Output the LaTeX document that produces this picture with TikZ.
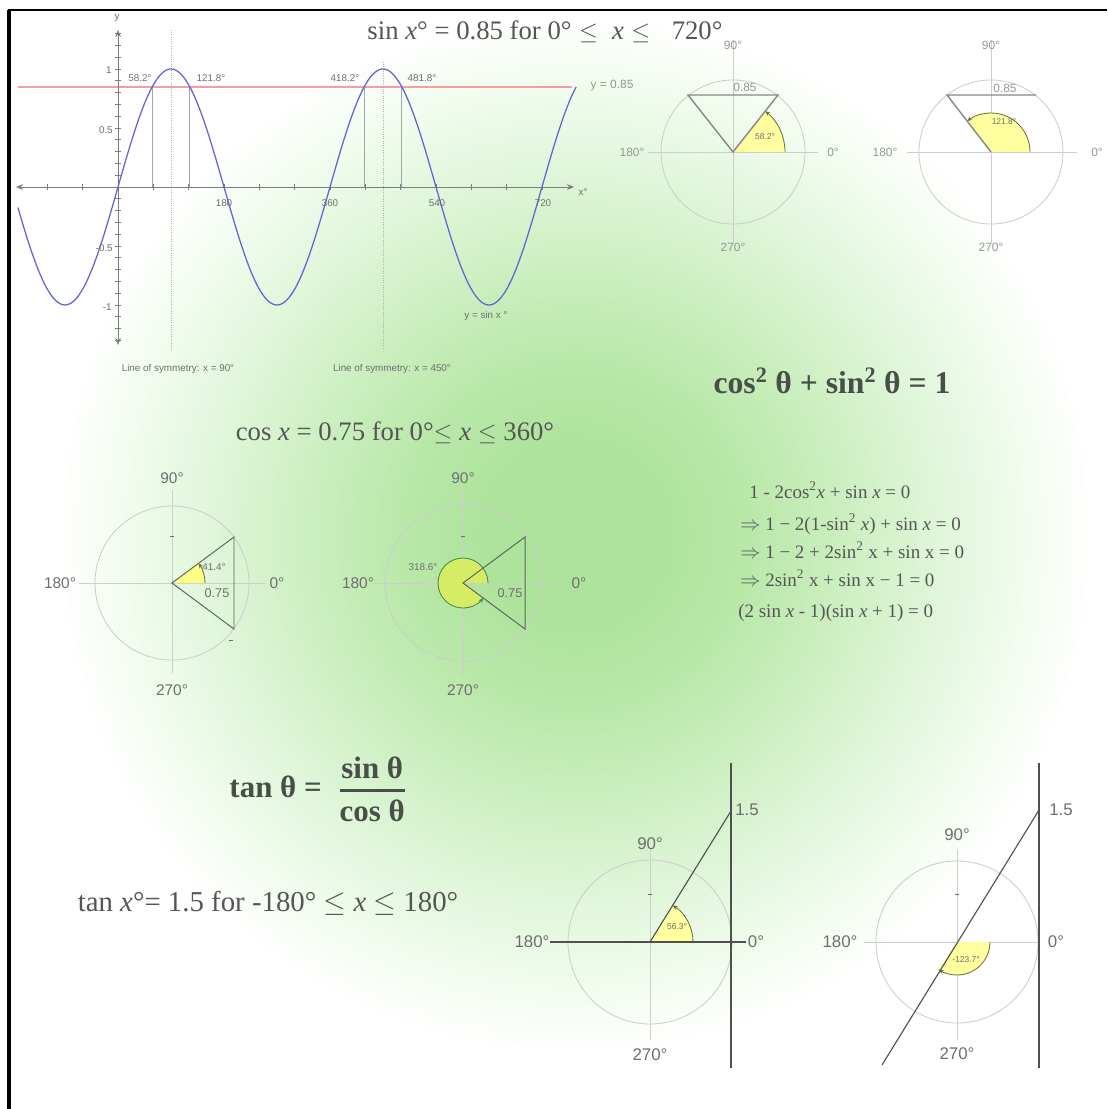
\documentclass[tikz,border=0pt]{standalone}
\usepackage{fontspec}
\setmainfont{Liberation Serif}
\setsansfont{Liberation Sans}
\usetikzlibrary{arrows.meta}

\definecolor{ink}{RGB}{85,85,85}
\definecolor{inkdark}{RGB}{72,78,72}
\definecolor{lblgray}{RGB}{110,110,110}
\definecolor{lblpale}{RGB}{150,150,150}
\definecolor{axispale}{RGB}{205,205,205}
\definecolor{axisdark}{RGB}{125,125,125}
\definecolor{sinblue}{RGB}{100,100,215}
\definecolor{linered}{RGB}{240,160,160}
\definecolor{symgreen}{RGB}{165,185,165}
\definecolor{triline}{RGB}{135,135,135}
\definecolor{cosline}{RGB}{90,105,90}
\definecolor{tanline}{RGB}{80,80,80}
\definecolor{sectpale}{RGB}{255,255,160}
\definecolor{sectlime}{RGB}{214,236,100}
\definecolor{sectedge}{RGB}{105,115,55}
\definecolor{glowcore}{RGB}{174,227,155}
\definecolor{glowa}{RGB}{184,231,167}
\definecolor{glowb}{RGB}{204,239,193}
\definecolor{glowc}{RGB}{226,247,220}
\definecolor{glowd}{RGB}{243,252,240}

\pgfdeclareradialshading{glow}{\pgfpoint{0bp}{0bp}}{%
  color(0bp)=(glowcore); color(4bp)=(glowcore); color(8bp)=(glowa);
  color(13bp)=(glowb); color(18bp)=(glowc); color(22bp)=(glowd);
  color(25bp)=(white); color(50bp)=(white)}

\begin{document}
\begin{tikzpicture}[
    x=0.025cm, y=-0.025cm,
    title/.style={text=ink, inner sep=0pt, anchor=base, font=\fontsize{18.5}{21}\selectfont},
    bigeq/.style={text=inkdark, inner sep=0pt, font=\bfseries\fontsize{22.5}{26}\selectfont},
    stepline/.style={text=ink, inner sep=0pt, anchor=base west, font=\fontsize{13.5}{16}\selectfont},
    tiny/.style={text=lblgray, inner sep=0pt, font=\sffamily\fontsize{7}{8}\selectfont},
    degsmall/.style={text=lblpale, inner sep=0pt, font=\sffamily\fontsize{8.5}{9}\selectfont},
    deg/.style={text=lblgray, inner sep=0pt, font=\sffamily\fontsize{11}{12}\selectfont},
    degbig/.style={text=lblgray, inner sep=0pt, font=\sffamily\fontsize{12}{13}\selectfont},
    anglbl/.style={text=lblgray, inner sep=0pt, font=\sffamily\fontsize{6}{7}\selectfont},
    axisln/.style={draw=axispale, line width=0.5pt},
    circln/.style={draw=axispale, line width=0.6pt},
    sinaxis/.style={draw=axisdark, line width=0.5pt},
    symline/.style={draw=symgreen, line width=0.6pt, densely dotted},
    footline/.style={draw=axispale!80!black, line width=0.4pt},
    sector/.style={fill=sectpale},
    sectarc/.style={draw=sectedge, line width=0.6pt, -{Stealth[length=3.5pt, width=3pt]}},
    tri/.style={draw=triline, line width=1pt},
    cosedge/.style={draw=cosline, line width=0.7pt},
    tanedge/.style={draw=tanline, line width=0.8pt},
    tickmark/.style={draw=lblgray, line width=0.5pt},
    axisarrows/.style={{Stealth[length=5pt, width=4pt]}-{Stealth[length=5pt, width=4pt]}}
]
\useasboundingbox (0,0) rectangle (1107,1109);
\begin{scope}
    \clip (9,10) rectangle (1107,1109);
    \shade[shading=glow] (575,535) circle[radius=13cm];
\end{scope}
\draw[line width=2.6pt] (9,1109) -- (9,10);
\draw[line width=2.1pt] (8,10) -- (1107,10);

% sine graph
\draw[linered, line width=0.8pt] (18,87) -- (572,87);
\foreach \a in {58.2,121.8,418.2,481.8}
    \draw[footline] ({118+\a/180*106},187) -- ({118+\a/180*106},87);
\draw[symline] (171,30) -- (171,350);
\draw[symline] (383,62) -- (383,350);
\draw[sinaxis, axisarrows] (16,187) -- (574,187);
\draw[sinaxis, axisarrows] (118,345) -- (118,30);
\foreach \a in {-120,-60,60,120,...,720}
    \draw[sinaxis] ({118+\a/180*106},184) -- ++(0,6);
\foreach \v in {-13,...,13}
    \draw[sinaxis] (115,{187-\v*11.8}) -- ++(6,0);
\draw[sinblue, line width=0.9pt] plot[domain=-170:778, samples=240, smooth] ({118+\x/180*106}, {187-118*sin(\x)});

\node[title, font=\fontsize{19}{21}\selectfont] (sintitle) at (545,40) {sin \textit{x}° = 0.85 for 0°\;$\le$\; \textit{x}\;$\le$\;\; 720°};
\node[tiny] (yname) at (117,18) {y};
\node[tiny, anchor=east] (ytop) at (112,70) {1};
\node[tiny, anchor=east] (yhalf) at (113,130) {0.5};
\node[tiny, anchor=east] (ymhalf) at (113,248) {-0.5};
\node[tiny, anchor=east] (ybot) at (112,307) {-1};
\node[tiny] (x180) at (224,203) {180};
\node[tiny] (x360) at (330,203) {360};
\node[tiny] (x540) at (437,203) {540};
\node[tiny] (x720) at (543,203) {720};
\node[tiny] (xname) at (583,192) {x°};
\node[tiny] (sol1) at (140,78) {58.2°};
\node[tiny] (sol2) at (211,78) {121.8°};
\node[tiny] (sol3) at (345,78) {418.2°};
\node[tiny] (sol4) at (422,78) {481.8°};
\node[degsmall] (redname) at (612,86) {y = 0.85};
\node[tiny] (curvename) at (486,316) {y = sin x °};
\node[tiny] (sym1) at (178,369) {Line of symmetry: x = 90°};
\node[tiny] (sym2) at (392,369) {Line of symmetry: x = 450°};

% sin x = 0.85, first solution
\begin{scope}[shift={(733,152)}, y=0.025cm]
    \draw[axisln] (-85,0) -- (85,0);
    \draw[axisln] (0,-91) -- (0,112);
    \draw[circln] (0,0) circle[radius=72];
    \fill[sector] (0,0) -- (52,0) arc[start angle=0, end angle=51.7, radius=52] -- cycle;
    \draw[sectarc] (52,0) arc[start angle=0, end angle=51.7, radius=52];
    \draw[tri] (0,0) -- (45,57) -- (-45,57) -- cycle;
    \node[anglbl] (sa-ang) at (32,15) {58.2°};
    \node[degsmall] (sa-val) at (12,65) {0.85};
    \node[degsmall] (sa-90) at (0,107) {90°};
    \node[degsmall] (sa-180) at (-101,0) {180°};
    \node[degsmall] (sa-0) at (100,0) {0°};
    \node[degsmall] (sa-270) at (0,-95) {270°};
\end{scope}

% sin x = 0.85, second solution
\begin{scope}[shift={(991,152)}, y=0.025cm]
    \draw[axisln] (-84,0) -- (86,0);
    \draw[axisln] (0,-91) -- (0,112);
    \draw[circln] (0,0) circle[radius=72];
    \fill[sector] (0,0) -- (39,0) arc[start angle=0, end angle=127.7, radius=39] -- cycle;
    \draw[sectarc] (39,0) arc[start angle=0, end angle=127.7, radius=39];
    \draw[tri] (0,0) -- (-44,57) -- (45,57);
    \node[anglbl] (sb-ang) at (13,30) {121.8°};
    \node[degsmall] (sb-val) at (14,64) {0.85};
    \node[degsmall] (sb-90) at (0,107) {90°};
    \node[degsmall] (sb-180) at (-106,0) {180°};
    \node[degsmall] (sb-0) at (106,0) {0°};
    \node[degsmall] (sb-270) at (0,-95) {270°};
\end{scope}

\node[bigeq] (pyth) at (832,393) [anchor=base] {cos\textsuperscript{2} θ + sin\textsuperscript{2} θ = 1};
\node[title, font=\fontsize{19}{22}\selectfont] (costitle) at (395,440) {cos \textit{x} = 0.75 for 0°$\le$ \textit{x} $\le$ 360°};

% cos x = 0.75, first solution
\begin{scope}[shift={(172,583)}, y=0.025cm]
    \draw[axisln] (-93,0) -- (93,0);
    \draw[axisln] (0,-90) -- (0,93);
    \draw[circln] (0,0) circle[radius=77];
    \fill[sector, fill=sectpale!85!yellow] (0,0) -- (33,0) arc[start angle=0, end angle=36.6, radius=33] -- cycle;
    \draw[sectarc] (33,0) arc[start angle=0, end angle=36.6, radius=33];
    \draw[cosedge] (0,0) -- (62,46) -- (62,-46) -- cycle;
    \draw[tickmark] (-2,47) -- (2,47);
    \draw[tickmark] (57,-57) -- (61,-57);
    \node[anglbl, font=\sffamily\fontsize{7}{8}\selectfont] (sc-ang) at (42,16) {41.4°};
    \node[deg, font=\sffamily\fontsize{9}{10}\selectfont] (sc-val) at (45,-10) {0.75};
    \node[deg] (sc-90) at (0,105) {90°};
    \node[deg] (sc-180) at (-112,0) {180°};
    \node[deg] (sc-0) at (105,0) {0°};
    \node[deg] (sc-270) at (0,-107) {270°};
\end{scope}

% cos x = 0.75, second solution
\begin{scope}[shift={(463,583)}, y=0.025cm]
    \draw[axisln] (-90,0) -- (100,0);
    \draw[axisln] (0,-92) -- (0,95);
    \draw[circln] (0,0) circle[radius=78];
    \fill[fill=sectlime] (0,0) -- (25,0) arc[start angle=0, end angle=323.4, radius=25] -- cycle;
    \draw[sectarc, draw=cosline!80!green] (25,0) arc[start angle=0, end angle=323.4, radius=25];
    \draw[cosedge] (0,0) -- (62,46) -- (62,-46) -- cycle;
    \draw[tickmark] (-2,47) -- (2,47);
    \node[anglbl, font=\sffamily\fontsize{7}{8}\selectfont] (sd-ang) at (-40,16) {318.6°};
    \node[deg, font=\sffamily\fontsize{9}{10}\selectfont] (sd-val) at (47,-10) {0.75};
    \node[deg] (sd-90) at (0,105) {90°};
    \node[deg] (sd-180) at (-105,0) {180°};
    \node[deg] (sd-0) at (116,0) {0°};
    \node[deg] (sd-270) at (0,-107) {270°};
\end{scope}

% working
\node[stepline] (step1) at (749,498) {1 - 2cos\textsuperscript{2}\textit{x} + sin \textit{x} = 0};
\node[stepline] (step2) at (740,530) {$\Rightarrow$ 1 − 2(1-sin\textsuperscript{2} \textit{x}) + sin \textit{x} = 0};
\node[stepline] (step3) at (740,558) {$\Rightarrow$ 1 − 2 + 2sin\textsuperscript{2} x + sin x = 0};
\node[stepline] (step4) at (740,586) {$\Rightarrow$ 2sin\textsuperscript{2} x + sin x − 1 = 0};
\node[stepline] (step5) at (738,617) {(2 sin \textit{x} - 1)(sin \textit{x} + 1) = 0};

\node[bigeq, font=\bfseries\fontsize{22}{26}\selectfont] (tanid) at (318,789) {tan θ = \;$\displaystyle{\hbox{sin θ}\above 1.8pt\hbox{cos θ}}$};
\node[title, font=\fontsize{20.5}{23}\selectfont] (tantitle) at (268,911) {tan \textit{x}°= 1.5 for -180° $\le$ \textit{x} $\le$ 180°};

% tan x = 1.5, first solution
\begin{scope}[shift={(650,942)}, y=0.025cm]
    \draw[axisln] (0,-98) -- (0,92);
    \draw[circln] (0,0) circle[radius=82];
    \fill[sector] (0,0) -- (43,0) arc[start angle=0, end angle=58.3, radius=43] -- cycle;
    \draw[sectarc] (43,0) arc[start angle=0, end angle=58.3, radius=43];
    \draw[tanedge] (-100,0) -- (96,0);
    \draw[tanedge] (81,179) -- (81,-126);
    \draw[tanedge] (0,0) -- (81,131);
    \draw[tickmark] (-2,48) -- (2,48);
    \node[anglbl] (se-ang) at (27,15) {56.3°};
    \node[degbig, anchor=west] (se-val) at (85,132) {1.5};
    \node[degbig] (se-90) at (0,98) {90°};
    \node[degbig] (se-180) at (-118,0) {180°};
    \node[degbig] (se-0) at (106,0) {0°};
    \node[degbig] (se-270) at (0,-113) {270°};
\end{scope}

% tan x = 1.5, second solution
\begin{scope}[shift={(957,942)}, y=0.025cm]
    \draw[axisln] (-93,0) -- (83,0);
    \draw[axisln] (0,-98) -- (0,92);
    \draw[circln] (0,0) circle[radius=81];
    \fill[sector] (0,0) -- (33,0) arc[start angle=0, end angle=-123.7, radius=33] -- cycle;
    \draw[sectarc] (33,0) arc[start angle=0, end angle=-123.7, radius=33];
    \draw[tanedge] (82,179) -- (82,-126);
    \draw[tanedge] (82,132) -- (-75,-123);
    \draw[tickmark] (-2,48) -- (2,48);
    \node[anglbl] (sf-ang) at (9,-18) {-123.7°};
    \node[degbig, anchor=west] (sf-val) at (92,132) {1.5};
    \node[degbig] (sf-90) at (0,107) {90°};
    \node[degbig] (sf-180) at (-117,0) {180°};
    \node[degbig] (sf-0) at (99,0) {0°};
    \node[degbig] (sf-270) at (0,-112) {270°};
\end{scope}
\end{tikzpicture}
\end{document}
